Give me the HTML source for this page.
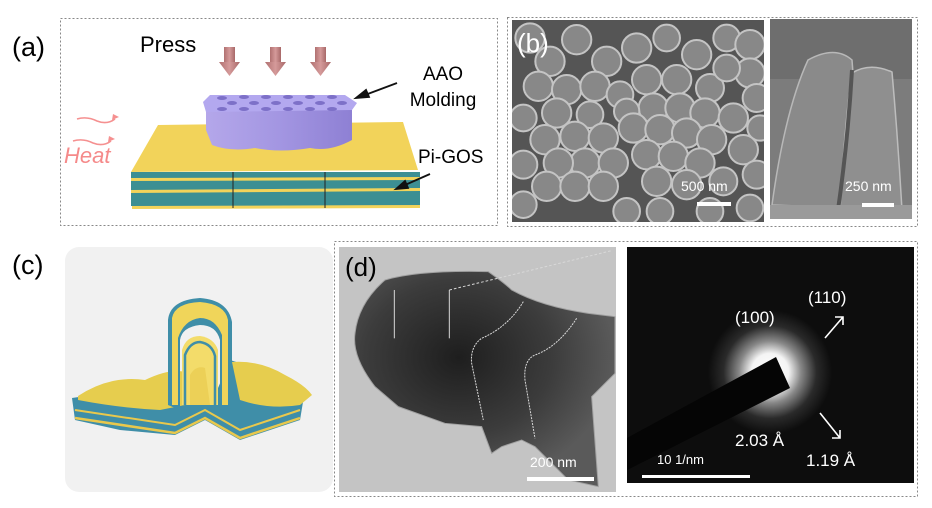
<!DOCTYPE html>
<html><head><meta charset="utf-8"><style>
html,body{margin:0;padding:0;background:#fff;}
svg{display:block;font-family:"Liberation Sans",sans-serif;}
</style></head><body>
<svg width="932" height="508" viewBox="0 0 932 508" xmlns="http://www.w3.org/2000/svg">
<defs>
<radialGradient id="glow" cx="0.5" cy="0.5" r="0.5">
<stop offset="0" stop-color="#fff"/><stop offset="0.3" stop-color="#f4f4f4"/><stop offset="0.5" stop-color="#888"/><stop offset="0.75" stop-color="#2a2a2a"/><stop offset="1" stop-color="#0d0d0d"/>
</radialGradient>
<linearGradient id="pill" x1="0" y1="0" x2="1" y2="0">
<stop offset="0" stop-color="#b4a7ea"/><stop offset="0.5" stop-color="#a396e2"/><stop offset="1" stop-color="#8e80d4"/>
</linearGradient>
<linearGradient id="arrowg" x1="0" y1="0" x2="1" y2="0">
<stop offset="0" stop-color="#b07070"/><stop offset="0.5" stop-color="#d59a9a"/><stop offset="1" stop-color="#a86868"/>
</linearGradient>
<radialGradient id="blob" cx="0.4" cy="0.4" r="0.6">
<stop offset="0" stop-color="#1e1e1e"/><stop offset="0.6" stop-color="#3c3c3c"/><stop offset="1" stop-color="#5a5a5a"/>
</radialGradient>
<clipPath id="semclip"><rect x="512" y="20" width="252" height="202"/></clipPath>
<clipPath id="temclip"><rect x="339" y="247" width="277" height="245"/></clipPath>
</defs>

<text x="12" y="56" font-size="27">(a)</text>
<text x="12" y="274" font-size="27">(c)</text>

<!-- panel a -->
<rect x="60.5" y="18.5" width="437" height="207" fill="none" stroke="#888" stroke-dasharray="2,2"/>
<text x="140" y="52" font-size="22">Press</text>
<text x="443" y="80" font-size="19" text-anchor="middle">AAO</text>
<text x="443" y="106" font-size="19" text-anchor="middle">Molding</text>
<text x="418" y="163" font-size="19">Pi-GOS</text>
<text x="64" y="163" font-size="22" font-style="italic" fill="#f58a8a">Heat</text>
<g fill="none" stroke="#f59090" stroke-width="1.6">
<path d="M77 119 q10 -3 20 2 q10 4 18 -2"/><path d="M73 141 q10 -3 20 2 q10 4 18 -2"/>
</g>
<path d="M113 114 l6 3 l-7 3z M109 136 l6 3 l-7 3z" fill="#f59090"/>
<g fill="url(#arrowg)">
<rect x="224" y="47" width="11" height="16"/><path d="M219 62 h21 l-10.5 14z"/>
<rect x="270" y="47" width="11" height="16"/><path d="M265 62 h21 l-10.5 14z"/>
<rect x="315" y="47" width="11" height="16"/><path d="M310 62 h21 l-10.5 14z"/>
</g>
<g>
<path d="M132 199 L420 199 L420 208 L132 209z" fill="#f2d35a"/>
<path d="M131 190 L420 190 L420 205 L131 206z" fill="#3c8f93"/>
<path d="M131 188 L420 186 L420 191 L131 193z" fill="#f2d35a"/>
<path d="M131 178 L420 178 L420 188 L131 190z" fill="#3c8f93"/>
<path d="M131 176 L420 175 L420 180 L131 181z" fill="#f2d35a"/>
<path d="M131 172 L420 172 L420 177 L131 178z" fill="#3c8f93"/>
<path d="M158 125 L403 122 L418 170 L131 172z" fill="#f2d35a"/>
<path d="M233 172 v36 M325 172 v36" stroke="#222" stroke-width="1"/>
</g>
<g>
<path d="M206 105 L352 105 L352 140 Q330 152 310 148 Q280 153 255 148 Q230 152 212 145 L206 130z" fill="url(#pill)"/>
<path d="M210 95 L345 95 L357 103 L352 110 L206 112 L203 102z" fill="#b3a8ef"/>
<g fill="#7d70c8">
<ellipse cx="222" cy="98" rx="5" ry="2"/><ellipse cx="244" cy="97" rx="5" ry="2"/><ellipse cx="266" cy="97" rx="5" ry="2"/><ellipse cx="288" cy="97" rx="5" ry="2"/><ellipse cx="310" cy="97" rx="5" ry="2"/><ellipse cx="332" cy="97" rx="5" ry="2"/>
<ellipse cx="232" cy="103" rx="5" ry="2"/><ellipse cx="254" cy="103" rx="5" ry="2"/><ellipse cx="276" cy="103" rx="5" ry="2"/><ellipse cx="298" cy="103" rx="5" ry="2"/><ellipse cx="320" cy="103" rx="5" ry="2"/><ellipse cx="342" cy="103" rx="5" ry="2"/>
<ellipse cx="222" cy="109" rx="5" ry="2"/><ellipse cx="244" cy="109" rx="5" ry="2"/><ellipse cx="266" cy="109" rx="5" ry="2"/><ellipse cx="288" cy="109" rx="5" ry="2"/><ellipse cx="310" cy="109" rx="5" ry="2"/><ellipse cx="332" cy="109" rx="5" ry="2"/>
</g>
</g>
<g stroke="#111" stroke-width="1.8" fill="#111">
<line x1="397" y1="83" x2="365" y2="95"/><path d="M356 98 l10 -8 l3 7z"/>
<line x1="430" y1="174" x2="405" y2="185"/><path d="M396 189 l9 -8 l3 7z"/>
</g>

<!-- panel b -->
<rect x="507.5" y="17.5" width="410" height="209" fill="none" stroke="#888" stroke-dasharray="2,2"/>
<rect x="512" y="20" width="252" height="202" fill="#555"/>
<g clip-path="url(#semclip)">
<g transform="translate(510,18) scale(0.3333)" fill="#888" stroke="#c4c4c4" stroke-width="6">
<circle cx="60" cy="60" r="44"/><circle cx="200" cy="65" r="44"/><circle cx="290" cy="130" r="44"/><circle cx="380" cy="90" r="44"/><circle cx="470" cy="60" r="40"/><circle cx="560" cy="110" r="44"/><circle cx="650" cy="60" r="40"/><circle cx="720" cy="80" r="44"/><circle cx="120" cy="130" r="44"/>
<circle cx="85" cy="205" r="44"/><circle cx="170" cy="215" r="44"/><circle cx="255" cy="205" r="44"/><circle cx="330" cy="230" r="40"/><circle cx="140" cy="285" r="44"/><circle cx="240" cy="290" r="40"/><circle cx="40" cy="300" r="40"/><circle cx="195" cy="355" r="44"/><circle cx="280" cy="360" r="44"/><circle cx="105" cy="365" r="44"/><circle cx="225" cy="435" r="44"/><circle cx="145" cy="435" r="44"/><circle cx="310" cy="435" r="44"/><circle cx="110" cy="505" r="44"/><circle cx="195" cy="505" r="44"/><circle cx="280" cy="505" r="44"/><circle cx="40" cy="440" r="42"/><circle cx="40" cy="560" r="40"/><circle cx="350" cy="580" r="40"/>
<circle cx="410" cy="185" r="44"/><circle cx="500" cy="185" r="44"/><circle cx="600" cy="210" r="42"/><circle cx="720" cy="165" r="44"/><circle cx="650" cy="150" r="40"/>
<circle cx="430" cy="270" r="44"/><circle cx="510" cy="270" r="44"/><circle cx="585" cy="285" r="44"/><circle cx="670" cy="300" r="44"/><circle cx="740" cy="240" r="42"/><circle cx="350" cy="280" r="38"/>
<circle cx="370" cy="330" r="44"/><circle cx="450" cy="335" r="44"/><circle cx="530" cy="345" r="44"/><circle cx="605" cy="365" r="44"/><circle cx="700" cy="395" r="44"/><circle cx="750" cy="330" r="38"/>
<circle cx="410" cy="410" r="44"/><circle cx="490" cy="415" r="44"/><circle cx="570" cy="435" r="44"/><circle cx="440" cy="490" r="44"/><circle cx="530" cy="500" r="44"/><circle cx="640" cy="490" r="42"/><circle cx="740" cy="470" r="42"/><circle cx="450" cy="580" r="40"/><circle cx="600" cy="580" r="40"/><circle cx="720" cy="570" r="40"/>
</g>
</g>
<text x="517" y="52" font-size="26" fill="#fff">(b)</text>
<text x="681" y="191" font-size="14" fill="#fff">500 nm</text>
<rect x="697" y="202" width="34" height="4" fill="#fff"/>
<rect x="770" y="19" width="142" height="200" fill="#7c7c7c"/>
<path d="M770 19 h142 v60 h-142z" fill="#6e6e6e"/>
<path d="M772 205 Q785 110 808 60 Q835 45 852 60 Q858 130 850 208z" fill="#8a8a8a" stroke="#b8b8b8" stroke-width="1.5"/>
<path d="M840 210 Q845 120 852 73 Q870 62 892 72 Q898 140 902 210z" fill="#8f8f8f" stroke="#bdbdbd" stroke-width="1.5"/>
<path d="M852 70 Q848 140 838 210" stroke="#555" stroke-width="4" fill="none"/>
<rect x="770" y="205" width="142" height="14" fill="#9a9a9a"/>
<text x="845" y="191" font-size="14" fill="#fff">250 nm</text>
<rect x="862" y="203" width="32" height="4" fill="#fff"/>

<!-- panel c -->
<rect x="65" y="247" width="268" height="245" rx="14" fill="#f1f1f1"/>
<g>
<path d="M72 398 L165 384 L215 395 L230 360 L262 370 L305 390 L300 420 L240 440 L205 420 L175 435 L120 430 L75 420z" fill="#3f8ea8"/>
<path d="M75 418 L175 433 L205 418 L240 438 L300 418" stroke="#e9c84c" stroke-width="2.5" fill="none"/>
<path d="M75 410 L175 425 L205 410 L240 430 L300 410" stroke="#e9c84c" stroke-width="2" fill="none"/>
<path d="M78 396 Q110 375 145 380 Q170 368 185 372 L185 405 L160 410 Q120 408 78 400z" fill="#e6cd4e"/>
<path d="M232 362 Q260 360 285 375 Q305 385 312 395 L300 405 Q270 410 240 400z" fill="#e6cd4e"/>
<path d="M168 405 L168 320 Q170 300 200 298 Q228 300 232 322 L232 408 L220 410 L220 340 Q216 325 200 325 Q182 327 180 340 L180 410z" fill="#3f8ea8"/>
<path d="M172 405 L172 318 Q175 303 200 302 Q225 304 228 320 L228 405 L222 405 L222 335 Q215 318 200 318 Q184 320 178 338 L178 405z" fill="#f0d55a"/>
<path d="M182 405 L182 350 Q186 336 200 336 Q214 338 218 350 L218 405z" fill="#f3dc6a"/>
<path d="M185 405 L185 355 Q190 342 200 342 Q212 344 215 356 L215 405" stroke="#3f8ea8" stroke-width="2.5" fill="none"/>
<path d="M190 405 L190 375 Q196 365 205 368 L210 405z" fill="#ecd057"/>
</g>

<!-- panel d -->
<rect x="334.5" y="241.5" width="583" height="255" fill="none" stroke="#888" stroke-dasharray="2,2"/>
<rect x="339" y="247" width="277" height="245" fill="#c4c4c4"/>
<g clip-path="url(#temclip)">
<g transform="translate(335,240) scale(0.3333)">
<path d="M150 120 Q250 90 460 95 Q510 130 530 150 Q620 200 760 220 L840 230 L840 400 L770 470 L790 740 L700 720 L600 620 L560 600 L500 620 L470 640 L440 560 L330 550 L190 500 L120 440 Q50 350 60 280 Q70 190 150 120z" fill="url(#blob)" stroke="#a0a0a0" stroke-width="3"/>
<g stroke="#d8d8d8" stroke-width="3" fill="none">
<line x1="178" y1="150" x2="178" y2="295"/><line x1="343" y1="150" x2="343" y2="295"/>
<path d="M343 150 L830 32" stroke-dasharray="8,6"/>
<path d="M565 185 Q520 260 440 295 Q405 320 410 370 L445 540" stroke-dasharray="6,3"/>
<path d="M725 235 Q670 320 600 345 Q565 360 570 420 L600 595" stroke-dasharray="6,3"/>
</g>
</g>
</g>
<text x="345" y="276" font-size="26">(d)</text>
<text x="530" y="467" font-size="14" fill="#fff">200 nm</text>
<rect x="527" y="477" width="67" height="4" fill="#fff"/>
<rect x="627" y="247" width="287" height="236" fill="#0d0d0d"/>
<circle cx="770" cy="372" r="62" fill="url(#glow)"/>
<path d="M776 357 L790 388 L627 470 L627 438z" fill="#050505"/>
<text x="735" y="323" font-size="17" fill="#fff">(100)</text>
<text x="808" y="303" font-size="17" fill="#fff">(110)</text>
<text x="735" y="446" font-size="17" fill="#fff">2.03 Å</text>
<text x="806" y="466" font-size="17" fill="#fff">1.19 Å</text>
<text x="657" y="464" font-size="13" fill="#fff">10 1/nm</text>
<rect x="642" y="475" width="108" height="3" fill="#fff"/>
<g stroke="#fff" stroke-width="1.6" fill="none">
<path d="M825 338 L843 317 M835 317 h8 v8"/>
<path d="M820 413 L840 438 M840 430 v8 h-8"/>
</g>
</svg>
</body></html>
